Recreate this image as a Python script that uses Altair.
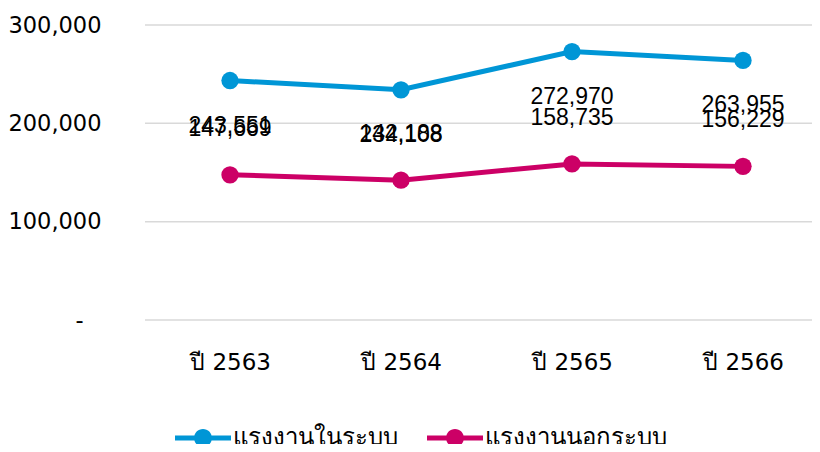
import altair as alt
import pandas as pd

years = ["ปี 2563", "ปี 2564", "ปี 2565", "ปี 2566"]
series_names = ["แรงงานในระบบ", "แรงงานนอกระบบ"]
formal = [243551, 234108, 272970, 263955]
informal = [147669, 142188, 158735, 156229]
colors = ["#0096D6", "#CC0066"]
y_ticks = [0, 100000, 200000, 300000]

rows = []
for i, yr in enumerate(years):
    rows.append({"year": yr, "series": series_names[0], "value": formal[i]})
    rows.append({"year": yr, "series": series_names[1], "value": informal[i]})
df = pd.DataFrame(rows)
grid_df = pd.DataFrame({"value": y_ticks})

AXIS_FONT = "DejaVu Sans"
LABEL_FONT = "Liberation Sans"

x = alt.X("year:N", sort=years, title=None,
          scale=alt.Scale(type="point", range=[85, 598], padding=0),
          axis=alt.Axis(labelAngle=0, labelFontSize=23, labelFont=AXIS_FONT,
                        labelColor="#000000", ticks=False, domain=False,
                        labelPadding=31, grid=False))
y_scale = alt.Scale(domain=[0, 300000], nice=False)
y_axis = alt.Axis(values=y_ticks,
                  labelExpr="datum.value == 0 ? '-' : format(datum.value, ',')",
                  labelFontSize=22.5, labelFont=AXIS_FONT, labelColor="#000000",
                  ticks=False, domain=False,
                  labelPadding={"condition": {"test": "datum.value == 0", "value": 62}, "value": 44},
                  grid=False)
y = alt.Y("value:Q", title=None, scale=y_scale, axis=y_axis)

legend_symbol = ("M -1 -0.09 L 1 -0.09 L 1 0.09 L -1 0.09 Z "
                 "M -0.32 0 A 0.32 0.32 0 1 1 0.32 0 A 0.32 0.32 0 1 1 -0.32 0 Z")

color = alt.Color("series:N", title=None,
                  scale=alt.Scale(domain=series_names, range=colors),
                  legend=alt.Legend(orient="none", legendX=30, legendY=385,
                                    direction="horizontal", columns=2,
                                    symbolType=legend_symbol, symbolSize=3136,
                                    symbolStrokeWidth=0, symbolOpacity=1,
                                    labelFontSize=24, labelFont=AXIS_FONT,
                                    labelColor="#000000", labelOffset=2,
                                    columnPadding=29, labelLimit=400))

grid = alt.Chart(grid_df).mark_rule(color="#d9d9d9", strokeWidth=1.5).encode(
    y=alt.Y("value:Q", title=None, scale=y_scale, axis=y_axis),
    x=alt.value(0), x2=alt.value(675))

base = alt.Chart(df)

lines = base.mark_line(strokeWidth=5).encode(x=x, y=y, color=color)
points = base.mark_point(filled=True, size=300, opacity=1, shape="circle").encode(
    x=x, y=y, color=alt.Color("series:N", scale=alt.Scale(domain=series_names, range=colors), legend=None))

text_formal = base.transform_filter(alt.datum.series == series_names[0]).mark_text(
    dy=45, fontSize=23, font=LABEL_FONT, color="#000000", baseline="middle"
).encode(x=x, y=y, text=alt.Text("value:Q", format=","))

text_informal = base.transform_filter(alt.datum.series == series_names[1]).mark_text(
    dy=-46, fontSize=23, font=LABEL_FONT, color="#000000", baseline="middle"
).encode(x=x, y=y, text=alt.Text("value:Q", format=","))

chart = alt.layer(grid, lines, points, text_formal, text_informal).properties(
    width=667, height=295,
    autosize=alt.AutoSizeParams(type="none"),
    padding={"left": 137, "top": 17, "right": 0, "bottom": 124},
).configure_view(stroke=None)

chart.save("out.html", embed_options={"renderer": "svg", "actions": False})
